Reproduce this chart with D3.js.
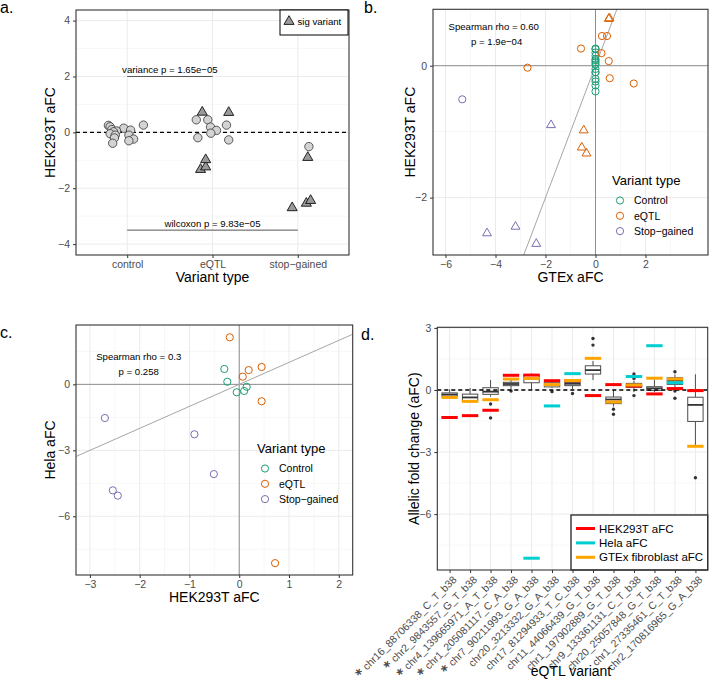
<!DOCTYPE html>
<html lang="en">
<head>
	<meta charset="UTF-8">
	<title>HEK293T / Hela / GTEx aFC comparison</title>
	<script src="https://d3js.org/d3.v7.min.js"></script>
	<style>
		body, html {
			margin: 0;
			padding: 0;
			background: #fff;
		}
		svg {
			display: block;
		}
		text {
			font-family: "Liberation Sans", Arial, Helvetica, sans-serif;
		}
		.grid-major {
			stroke: #EBEBEB;
			stroke-width: 1;
		}
		.grid-minor {
			stroke: #F2F2F2;
			stroke-width: 0.6;
		}
		.border {
			fill: none;
			stroke: #333;
			stroke-width: 1.1;
		}
		.tick line {
			stroke: #333;
		}
		.tick text, .rot-label {
			fill: #4D4D4D;
			font-size: 10.5px;
		}
		.rot-label {
			font-size: 10px;
		}
		.star {
			fill: #000;
			font-family: "DejaVu Sans", sans-serif;
			font-size: 16px;
			font-weight: bold;
		}
		.axis-title {
			font-size: 14px;
			fill: #000;
		}
		.panel-tag {
			font-size: 16px;
			fill: #000;
		}
		.note {
			font-size: 9.6px;
			fill: #000;
		}
		.legend-title {
			font-size: 13px;
			fill: #000;
		}
		.legend-label {
			font-size: 10.5px;
			fill: #000;
		}
	</style>
</head>
<body>
	<svg width="709" height="680"></svg>

	<script>
		// ---- data ----
		const variantTypes = ["control", "eQTL", "stop-gained"];
		const typeTickLabels = ["control", "eQTL", "stop\u2212gained"];
		const legendTypes = ["Control", "eQTL", "Stop\u2212gained"];
		const typeColors = ["#1B9E77", "#D95F02", "#7570B3"];

		// control variants
		const controlHek = [0.26, 0.25, 0.2, 0.15, 0.1, 0.08, 0.05, 0.02, -0.05, -0.1, -0.1, -0.2, -0.24, -0.3, -0.39];
		const controlGtex = [0, 0, 0, 0, 0, 0, 0, 0, 0, 0, 0, 0, 0, 0, 0];
		const controlHela = [null, null, null, -0.11, -0.3, null, null, null, -0.36, null, null, null, 0.12, 0.7, null];
		const controlJitter = [0.19, -0.22, -0.2, -0.04, -0.18, 0.04, -0.125, -0.16, -0.2, -0.14, 0.02, -0.15, 0.075, 0.02, -0.17];

		// eQTL variants
		const eqtlIds = [
			"chr16_88706338_C_T_b38", "chr2_9843557_G_T_b38", "chr4_139665971_A_T_b38",
			"chr1_205081117_C_A_b38", "chr7_90211993_G_A_b38", "chr20_3213332_G_A_b38",
			"chr17_81294933_T_C_b38", "chr11_44066439_G_T_b38", "chr1_197902889_G_T_b38",
			"chr9_133361131_C_T_b38", "chr20_25057848_G_T_b38", "chr1_27335461_C_T_b38",
			"chr2_170816965_G_A_b38"
		];
		const eqtlSig = [1, 1, 1, 1, 1, 0, 0, 0, 0, 0, 0, 0, 0];
		const eqtlHek = [-1.33, -1.24, -0.98, 0.71, 0.72, 0.45, 0.45, -0.27, 0.26, 0.19, -0.19, 0.07, -0.03];
		const eqtlGtex = [-0.36, -0.55, -0.47, 0.53, 0.56, 0.26, 0.46, 1.53, -0.58, 0.24, 0.57, 0.53, -2.72];
		const eqtlHela = [null, null, null, null, -8.13, -0.77, 0.79, null, null, 0.65, 2.14, 0.35, null];
		const eqtlJitter = [-0.14, -0.08, -0.08, 0.19, -0.12, -0.19, -0.055, 0.19, 0.164, -0.023, -0.172, 0.047, -0.02];

		// stop-gained variants
		const stopHek = [-0.51, -0.9, -2.7, -2.54, -2.44];
		const stopGtex = [-5.33, -1.78, -2.37, -4.34, -3.2];
		const stopHela = [-4.08, -2.27, -1.53, -4.82, -5.06];
		const stopSig = [0, 1, 1, 1, 1];
		const stopJitter = [0.13, 0.117, -0.066, 0.1, 0.15];

		// GTEx fibroblast per-individual aFC, box summaries per eQTL
		const boxLow = [-0.42, -0.62, -0.32, 0.05, 0.03, 0.1, 0.05, 0.48, -0.8, -0.1, -0.1, 0.1, -2.7];
		const boxQ1 = [-0.3, -0.53, -0.21, 0.21, 0.35, 0.15, 0.21, 0.77, -0.66, 0.13, -0.02, 0.27, -1.52];
		const boxMed = [-0.22, -0.36, -0.08, 0.29, 0.55, 0.24, 0.3, 0.96, -0.46, 0.22, 0.08, 0.45, -0.72];
		const boxQ3 = [-0.14, -0.2, 0.11, 0.37, 0.72, 0.35, 0.37, 1.17, -0.34, 0.32, 0.16, 0.59, -0.35];
		const boxHigh = [0.03, 0.1, 0.48, 0.48, 0.8, 0.45, 0.5, 1.4, 0.0, 0.45, 0.5, 0.75, 0.76];
		const boxOutliers = [[], [], [-0.68, -1.35], [-0.05], [], [-0.08], [-0.17], [2.17, 2.49], [-0.93, -1.17], [0.56, 0.77, -0.27], [], [0.88, -0.05, -0.4], [-4.24]];

		const variants = [].concat(
			controlHek.map((v, i) => ({type: 0, hek: v, gtex: controlGtex[i], hela: controlHela[i], sig: false, jit: controlJitter[i]})),
			eqtlHek.map((v, i) => ({type: 1, hek: v, gtex: eqtlGtex[i], hela: eqtlHela[i], sig: eqtlSig[i] === 1, jit: eqtlJitter[i]})),
			stopHek.map((v, i) => ({type: 2, hek: v, gtex: stopGtex[i], hela: stopHela[i], sig: stopSig[i] === 1, jit: stopJitter[i]}))
		);

		const svg = d3.select("svg");
		const intFmt = d3.format("d");

		function drawGrid(g, x, y, xMajor, xMinor, yMajor, yMinor) {
			const [x0, x1] = x.range();
			const [y0, y1] = y.range();
			g.selectAll(null).data(xMinor).join("line").attr("class", "grid-minor")
				.attr("x1", d => x(d)).attr("x2", d => x(d)).attr("y1", y0).attr("y2", y1);
			g.selectAll(null).data(yMinor).join("line").attr("class", "grid-minor")
				.attr("x1", x0).attr("x2", x1).attr("y1", d => y(d)).attr("y2", d => y(d));
			g.selectAll(null).data(xMajor).join("line").attr("class", "grid-major")
				.attr("x1", d => x(d)).attr("x2", d => x(d)).attr("y1", y0).attr("y2", y1);
			g.selectAll(null).data(yMajor).join("line").attr("class", "grid-major")
				.attr("x1", x0).attr("x2", x1).attr("y1", d => y(d)).attr("y2", d => y(d));
		}

		function drawAxes(g, x, y, xTicks, yTicks, xFormat) {
			const ax = g.append("g").attr("transform", `translate(0,${y.range()[0]})`)
				.call(d3.axisBottom(x).tickValues(xTicks).tickSize(3).tickPadding(2.5).tickFormat(xFormat));
			ax.select(".domain").remove();
			const ay = g.append("g").attr("transform", `translate(${x.range()[0]},0)`)
				.call(d3.axisLeft(y).tickValues(yTicks).tickSize(3).tickPadding(3).tickFormat(intFmt));
			ay.select(".domain").remove();
			return ax;
		}

		function drawBorder(g, x, y) {
			const [x0, x1] = x.range();
			const [y0, y1] = y.range();
			g.append("rect").attr("class", "border")
				.attr("x", x0).attr("y", y1).attr("width", x1 - x0).attr("height", y0 - y1);
		}

		function clipFor(id, x, y) {
			const [x0, x1] = x.range();
			const [y0, y1] = y.range();
			svg.append("clipPath").attr("id", id).append("rect")
				.attr("x", x0).attr("y", y1).attr("width", x1 - x0).attr("height", y0 - y1);
			return `url(#${id})`;
		}

		function axisTitles(g, x, y, xText, yText, xBase, yBase) {
			const [x0, x1] = x.range();
			const [y0, y1] = y.range();
			g.append("text").attr("class", "axis-title").attr("text-anchor", "middle")
				.attr("x", (x0 + x1) / 2).attr("y", xBase).text(xText);
			g.append("text").attr("class", "axis-title").attr("text-anchor", "middle")
				.attr("transform", `translate(${yBase},${(y0 + y1) / 2}) rotate(-90)`).text(yText);
		}

		// ---- panel a ----
		const ga = svg.append("g");
		const xa = d3.scalePoint().domain(variantTypes).range([76, 349]).padding(0.6);
		const ya = d3.scaleLinear().domain([-4.39, 4.38]).range([255, 10]);
		drawGrid(ga, xa, ya, variantTypes, [], [-4, -2, 0, 2, 4], [-3, -1, 1, 3]);

		ga.append("line")
			.attr("x1", xa.range()[0]).attr("x2", xa.range()[1])
			.attr("y1", ya(0)).attr("y2", ya(0))
			.attr("stroke", "#000").attr("stroke-width", 1.4).attr("stroke-dasharray", "4,3");

		// significance brackets
		const brackets = [
			{from: "control", to: "eQTL", y: 2, label: "variance p = 1.65e\u221205"},
			{from: "control", to: "stop-gained", y: -3.5, label: "wilcoxon p = 9.83e\u221205"}
		];
		brackets.forEach(b => {
			ga.append("line").attr("x1", xa(b.from)).attr("x2", xa(b.to))
				.attr("y1", ya(b.y)).attr("y2", ya(b.y))
				.attr("stroke", "#555").attr("stroke-width", 1);
			ga.append("text").attr("class", "note").attr("text-anchor", "middle")
				.attr("x", (xa(b.from) + xa(b.to)) / 2).attr("y", ya(b.y) - 3.5).text(b.label);
		});

		const triA = d3.symbol(d3.symbolTriangle, 44);
		ga.selectAll(".pa-c").data(variants.filter(d => !d.sig)).join("circle")
			.attr("cx", d => xa(variantTypes[d.type]) + d.jit * xa.step())
			.attr("cy", d => ya(d.hek))
			.attr("r", 4.2)
			.attr("fill", "#D3D3D3").attr("stroke", "#333").attr("stroke-width", 0.8);
		ga.selectAll(".pa-t").data(variants.filter(d => d.sig)).join("path")
			.attr("d", triA)
			.attr("transform", d => `translate(${xa(variantTypes[d.type]) + d.jit * xa.step()},${ya(d.hek)})`)
			.attr("fill", "#9A9A9A").attr("stroke", "#111").attr("stroke-width", 0.9);

		drawBorder(ga, xa, ya);
		drawAxes(ga, xa, ya, variantTypes, [-4, -2, 0, 2, 4], (d, i) => typeTickLabels[i]);
		axisTitles(ga, xa, ya, "Variant type", "HEK293T aFC", 282, 55);

		// legend a
		ga.append("rect").attr("x", 280).attr("y", 10).attr("width", 68).attr("height", 25)
			.attr("fill", "#fff").attr("stroke", "#000").attr("stroke-width", 1);
		ga.append("path").attr("d", triA).attr("transform", "translate(289,21.5)")
			.attr("fill", "#9A9A9A").attr("stroke", "#111").attr("stroke-width", 0.9);
		ga.append("text").attr("class", "note").attr("x", 297.5).attr("y", 25).text("sig variant");

		// ---- scatter panels b and c ----
		function scatterPanel(opt) {
			const g = svg.append("g");
			const x = d3.scaleLinear().domain(opt.xDomain).range(opt.xRange);
			const y = d3.scaleLinear().domain(opt.yDomain).range(opt.yRange);
			drawGrid(g, x, y, opt.xMajor, opt.xMinor, opt.yMajor, opt.yMinor);
			const clip = clipFor(opt.id, x, y);
			const ref = g.append("g").attr("clip-path", clip);
			ref.append("line").attr("x1", x.range()[0]).attr("x2", x.range()[1])
				.attr("y1", y(0)).attr("y2", y(0)).attr("stroke", "#8F8F8F").attr("stroke-width", 1);
			ref.append("line").attr("x1", x(0)).attr("x2", x(0))
				.attr("y1", y.range()[0]).attr("y2", y.range()[1]).attr("stroke", "#8F8F8F").attr("stroke-width", 1);
			// identity line
			const lo = Math.min(opt.xDomain[0], opt.yDomain[0]);
			const hi = Math.max(opt.xDomain[1], opt.yDomain[1]);
			ref.append("line").attr("x1", x(lo)).attr("y1", y(lo)).attr("x2", x(hi)).attr("y2", y(hi))
				.attr("stroke", "#A6A6A6").attr("stroke-width", 1);

			const pts = g.append("g").attr("clip-path", clip);
			const tri = d3.symbol(d3.symbolTriangle, 34);
			pts.selectAll("circle").data(opt.data.filter(d => !(opt.shapes && d.sig))).join("circle")
				.attr("cx", d => x(opt.xv(d))).attr("cy", d => y(opt.yv(d)))
				.attr("r", 3.6).attr("fill", "none")
				.attr("stroke", d => typeColors[d.type]).attr("stroke-width", 1);
			if (opt.shapes) {
				pts.selectAll("path").data(opt.data.filter(d => d.sig)).join("path")
					.attr("d", tri)
					.attr("transform", d => `translate(${x(opt.xv(d))},${y(opt.yv(d))})`)
					.attr("fill", "none")
					.attr("stroke", d => typeColors[d.type]).attr("stroke-width", 1);
			}

			drawBorder(g, x, y);
			drawAxes(g, x, y, opt.xTicks, opt.yTicks, intFmt);
			axisTitles(g, x, y, opt.xTitle, opt.yTitle, opt.xTitleBase, opt.yTitleBase);

			g.append("text").attr("class", "note").attr("text-anchor", "middle")
				.attr("x", opt.note[0]).attr("y", opt.note[1]).text(opt.rhoText);
			g.append("text").attr("class", "note").attr("text-anchor", "middle")
				.attr("x", opt.note[0] + opt.note[2]).attr("y", opt.note[1] + 15).text(opt.pText);

			// legend
			const lg = g.append("g").attr("transform", `translate(${opt.legend[0]},${opt.legend[1]})`);
			lg.append("text").attr("class", "legend-title").attr("x", 0).attr("y", 0).text("Variant type");
			legendTypes.forEach((t, i) => {
				lg.append("circle").attr("cx", 8).attr("cy", 16 + i * 15.3).attr("r", 3.6)
					.attr("fill", "none").attr("stroke", typeColors[i]).attr("stroke-width", 1);
				lg.append("text").attr("class", "legend-label").attr("x", 22).attr("y", 16 + i * 15.3 + 3.8).text(t);
			});
			return g;
		}

		scatterPanel({
			id: "clip-b",
			data: variants.filter(d => d.gtex !== null),
			xv: d => d.gtex, yv: d => d.hek,
			xDomain: [-6.5, 4.5], xRange: [433, 708],
			yDomain: [-2.87, 0.855], yRange: [255, 9.3],
			xMajor: [-6, -4, -2, 0, 2], xMinor: [-5, -3, -1, 1, 3],
			yMajor: [-2, 0], yMinor: [-1],
			xTicks: [-6, -4, -2, 0, 2], yTicks: [-2, 0],
			xTitle: "GTEx aFC", yTitle: "HEK293T aFC", xTitleBase: 282, yTitleBase: 415,
			shapes: true,
			note: [493.7, 30, 3], rhoText: "Spearman rho = 0.60", pText: "p = 1.9e\u221204",
			legend: [612, 184.5]
		});

		scatterPanel({
			id: "clip-c",
			data: variants.filter(d => d.hela !== null),
			xv: d => d.hek, yv: d => d.hela,
			xDomain: [-3.28, 2.28], xRange: [76, 352.7],
			yDomain: [-8.67, 2.7], yRange: [575, 325],
			xMajor: [-3, -2, -1, 0, 1, 2], xMinor: [-2.5, -1.5, -0.5, 0.5, 1.5],
			yMajor: [-6, -3, 0], yMinor: [-7.5, -4.5, -1.5, 1.5],
			xTicks: [-3, -2, -1, 0, 1, 2], yTicks: [-6, -3, 0],
			xTitle: "HEK293T aFC", yTitle: "Hela aFC", xTitleBase: 602, yTitleBase: 55,
			shapes: false,
			note: [138.7, 359.5, 0], rhoText: "Spearman rho = 0.3", pText: "p = 0.258",
			legend: [257, 452.5]
		});

		// ---- panel d ----
		const gd = svg.append("g");
		const xd = d3.scalePoint().domain(eqtlIds).range([437.3, 707.7]).padding(0.6);
		const yd = d3.scaleLinear().domain([-8.7, 3.03]).range([570, 327.3]);
		drawGrid(gd, xd, yd, eqtlIds, [], [-6, -3, 0, 3], [-7.5, -4.5, -1.5, 1.5]);

		const boxW = xd.step() * 0.75;
		const segW = xd.step() * 0.8;
		const boxes = eqtlIds.map((id, i) => ({id: id, lo: boxLow[i], q1: boxQ1[i], med: boxMed[i], q3: boxQ3[i], hi: boxHigh[i], out: boxOutliers[i]}));
		const bx = gd.selectAll(".box").data(boxes).join("g")
			.attr("transform", d => `translate(${xd(d.id)},0)`);
		bx.append("line").attr("y1", d => yd(d.hi)).attr("y2", d => yd(d.q3)).attr("stroke", "#4D4D4D").attr("stroke-width", 1);
		bx.append("line").attr("y1", d => yd(d.q1)).attr("y2", d => yd(d.lo)).attr("stroke", "#4D4D4D").attr("stroke-width", 1);
		bx.append("rect").attr("x", -boxW / 2).attr("width", boxW)
			.attr("y", d => yd(d.q3)).attr("height", d => yd(d.q1) - yd(d.q3))
			.attr("fill", "#fff").attr("stroke", "#4D4D4D").attr("stroke-width", 1);
		bx.append("line").attr("x1", -boxW / 2).attr("x2", boxW / 2)
			.attr("y1", d => yd(d.med)).attr("y2", d => yd(d.med))
			.attr("stroke", "#333").attr("stroke-width", 1.8);
		bx.selectAll("circle").data(d => d.out).join("circle")
			.attr("cy", d => yd(d)).attr("r", 1.7).attr("fill", "#333");

		gd.append("line")
			.attr("x1", xd.range()[0]).attr("x2", xd.range()[1])
			.attr("y1", yd(0)).attr("y2", yd(0))
			.attr("stroke", "#000").attr("stroke-width", 1.3).attr("stroke-dasharray", "4,3");

		const segSeries = [
			{name: "HEK293T aFC", values: eqtlHek, color: "#FF0000"},
			{name: "Hela aFC", values: eqtlHela, color: "#00CED1"},
			{name: "GTEx fibroblast aFC", values: eqtlGtex, color: "#FFA500"}
		];
		segSeries.forEach(s => {
			gd.selectAll(null).data(eqtlIds.map((id, i) => ({id: id, v: s.values[i]})).filter(d => d.v !== null))
				.join("line")
				.attr("x1", d => xd(d.id) - segW / 2).attr("x2", d => xd(d.id) + segW / 2)
				.attr("y1", d => yd(d.v)).attr("y2", d => yd(d.v))
				.attr("stroke", s.color).attr("stroke-width", 3);
		});

		// legend d
		gd.append("rect").attr("x", 571).attr("y", 515).attr("width", 136.7).attr("height", 55)
			.attr("fill", "#fff").attr("stroke", "#222").attr("stroke-width", 1.3);
		segSeries.forEach((s, i) => {
			const ly = 528.5 + i * 14.4;
			gd.append("line").attr("x1", 576).attr("x2", 595).attr("y1", ly).attr("y2", ly)
				.attr("stroke", s.color).attr("stroke-width", 3);
			gd.append("text").attr("x", 599).attr("y", ly + 4).style("font-size", "11.5px").attr("fill", "#000").text(s.name);
		});

		drawBorder(gd, xd, yd);
		const axD = drawAxes(gd, xd, yd, eqtlIds, [-6, -3, 0, 3], () => "");
		axD.selectAll(".tick").each(function(id, i) {
			const tick = d3.select(this);
			const t = tick.append("text")
				.attr("class", "rot-label")
				.attr("text-anchor", "end")
				.attr("dy", "0.71em")
				.attr("transform", "translate(2,5) rotate(-45)")
				.text(id);
			if (eqtlSig[i] === 1) {
				const len = t.node().getComputedTextLength();
				tick.append("text")
					.attr("class", "star")
					.attr("text-anchor", "middle")
					.attr("x", -len - 7)
					.attr("dy", "0.55em")
					.attr("transform", "translate(2,5) rotate(-45)")
					.text("\u2217");
			}
		});
		gd.append("text").attr("class", "axis-title").attr("text-anchor", "middle")
			.attr("x", 571).attr("y", 676).text("eQTL variant");
		gd.append("text").attr("class", "axis-title").attr("text-anchor", "middle")
			.attr("transform", `translate(418.5,${(yd.range()[0] + yd.range()[1]) / 2}) rotate(-90)`)
			.text("Allelic fold change (aFC)");

		// panel tags
		const tags = [["a.", 0, 13], ["b.", 364, 13], ["c.", 0, 338], ["d.", 361, 340]];
		svg.selectAll(".panel-tag").data(tags).join("text").attr("class", "panel-tag")
			.attr("x", d => d[1]).attr("y", d => d[2]).text(d => d[0]);
	</script>
</body>
</html>
